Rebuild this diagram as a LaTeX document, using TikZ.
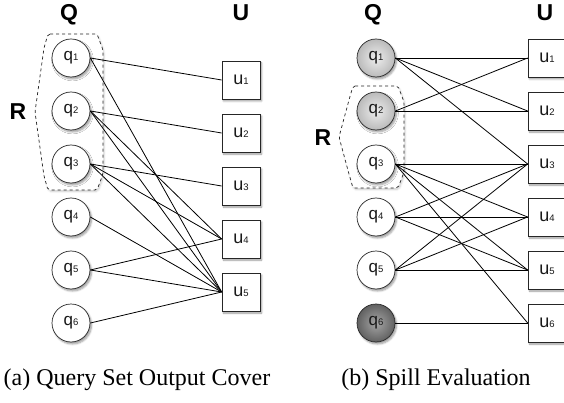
\documentclass[tikz,border=0pt]{standalone}
\usepackage{fontspec}
\setmainfont{Liberation Serif}
\newfontfamily\lsans{Liberation Sans}
\usetikzlibrary{shadows.blur}
\newcommand\dg[1]{{\fontsize{9.5}{9.5}\selectfont #1}}
\tikzset{
  shad/.style={blur shadow={shadow xshift=1.5pt, shadow yshift=-2pt, shadow blur steps=6, shadow opacity=40}},
  qn/.style={circle, draw=black!85, line width=0.7pt, minimum size=38pt, inner sep=0pt, fill=white, shad,
    font=\lsans\fontsize{17}{17}\selectfont, text=black!90},
  qlight/.style={qn, shading=radial, inner color=white!93!black, outer color=black!27},
  qdark/.style={qn, shading=radial, inner color=black!35, outer color=black!62},
  un/.style={rectangle, draw=black!85, line width=0.7pt, minimum size=38pt, inner sep=0pt, fill=white, shad,
    font=\lsans\fontsize{18}{18}\selectfont, text=black!90},
  hdr/.style={font=\lsans\bfseries\fontsize{23}{23}\selectfont, anchor=base},
  captxt/.style={font=\fontsize{24}{24}\selectfont, anchor=base},
  ed/.style={line width=0.8pt, black},
  grp/.style={dashed, line width=0.7pt, black!85, rounded corners=2pt, fill=white, blur shadow={shadow xshift=1pt, shadow yshift=-1.5pt, shadow blur steps=5, shadow opacity=20}}
}
\begin{document}
\begin{tikzpicture}[x=1pt, y=-1pt]
\useasboundingbox (0,0) rectangle (564,403);
% ---------- panel (a)
\node[hdr] (aQ) at (69,21) {Q};
\node[hdr] (aU) at (241,21) {U};
\draw[grp] (48,34) -- (97,34) -- (103,50) -- (103,174) -- (97,190) -- (48,190) -- (44,176) -- (35,112) -- (44,48) -- cycle;
\node[hdr] (aR) at (18,120) {R};
\foreach \i/\y in {1/58,2/111,3/164,4/217,5/270,6/323}
  \node[qn] (aq\i) at (71,\y) {q\dg{\i}};
\foreach \i/\y in {1/80,2/133,3/186,4/239,5/292}
  \node[un] (au\i) at (241,\y) {u\dg{\i}};
\foreach \a/\b in {1/1,1/5,2/2,2/4,2/5,3/3,3/4,3/5,4/5,5/4,5/5,6/5}
  \draw[ed] (aq\a.east) -- (au\b.west);
\node[captxt] (acap) at (137,385) {(a)~Query Set Output Cover};
% ---------- panel (b)
\node[hdr] (bQ) at (373,21) {Q};
\node[hdr] (bU) at (545,21) {U};
\draw[grp] (353,86) -- (398,86) -- (404,102) -- (404,172) -- (398,188) -- (353,188) -- (349,174) -- (339,137) -- (349,100) -- cycle;
\node[hdr] (bR) at (323,146) {R};
\node[qlight] (bq1) at (376,58) {q\dg{1}};
\node[qlight] (bq2) at (376,111) {q\dg{2}};
\node[qn] (bq3) at (376,164) {q\dg{3}};
\node[qn] (bq4) at (376,217) {q\dg{4}};
\node[qn] (bq5) at (376,270) {q\dg{5}};
\node[qdark] (bq6) at (376,323) {q\dg{6}};
\foreach \i/\y in {1/58,2/111,3/164,4/217,5/270,6/323}
  \node[un] (bu\i) at (547,\y) {u\dg{\i}};
\foreach \a/\b in {1/1,1/2,1/3,2/1,2/2,3/3,3/4,3/5,3/6,4/3,4/4,4/5,5/3,5/4,5/5,6/6}
  \draw[ed] (bq\a.east) -- (bu\b.west);
\node[captxt] (bcap) at (436,385) {(b)~Spill Evaluation};
\end{tikzpicture}
\end{document}
